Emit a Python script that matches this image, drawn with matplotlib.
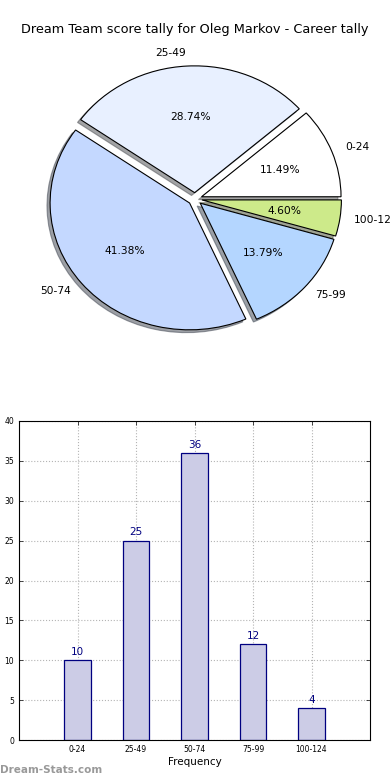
import matplotlib
matplotlib.use("Agg")
import matplotlib.pyplot as plt

categories = ["0-24", "25-49", "50-74", "75-99", "100-124"]
counts = [10, 25, 36, 12, 4]
pie_colors = ["#ffffff", "#e8f0ff", "#c4d8ff", "#b4d6ff", "#cdea8a"]
yticks = [0, 5, 10, 15, 20, 25, 30, 35, 40]
title = "Dream Team score tally for Oleg Markov - Career tally"

W, H = 390, 780
fig = plt.figure(figsize=(W / 100, H / 100), dpi=100)

# ---- pie ----
cx, cy, rx, ry = 195, 199, 139.5, 126.8
top_px, bot_px = 45, 360
axp = fig.add_axes([0, 1 - bot_px / H, 1, (bot_px - top_px) / H])
axp.pie(counts, labels=categories, colors=pie_colors, explode=[0.05] * 5,
        autopct="%1.2f%%", shadow={"ox": -0.016, "oy": -0.016},
        startangle=0,
        wedgeprops=dict(edgecolor="black", linewidth=0.8),
        textprops=dict(fontsize=7.7))
axp.set_aspect("auto")
axp.set_xlim(-cx / rx, (W - cx) / rx)
axp.set_ylim(-(bot_px - cy) / ry, (cy - top_px) / ry)
axp.axis("off")

fig.text(0.5, 1 - 30 / H, title, ha="center", va="center", fontsize=9.3)

# ---- bars ----
axb = fig.add_axes([19 / W, 1 - 740 / H, (370 - 19) / W, (740 - 421) / H])
x = list(range(len(categories)))
axb.bar(x, counts, width=0.45, color="#ccccE6", edgecolor="#000080", linewidth=0.9, zorder=2)
for xi, v in zip(x, counts):
    axb.text(xi, v + 0.4, str(v), ha="center", va="bottom", color="#000080", fontsize=7.5)
axb.set_xlim(-1, 5)
axb.set_ylim(0, 40)
axb.set_xticks(x)
axb.set_xticklabels(categories)
axb.set_yticks(yticks)
axb.tick_params(labelsize=5.5, direction="in", top=True, right=True, length=3, width=0.5)
axb.grid(True, linestyle=":", color="#b4b4b4", linewidth=0.8, zorder=0)
axb.set_axisbelow(True)
axb.set_xlabel("Frequency", fontsize=7.5, labelpad=2)
for s in axb.spines.values():
    s.set_linewidth(0.8)

fig.text(0.0, 1 - 770 / H, "Dream-Stats.com", ha="left", va="center",
         fontsize=7.5, color="#999999", fontweight="bold")

fig.savefig("out.png", dpi=100)
